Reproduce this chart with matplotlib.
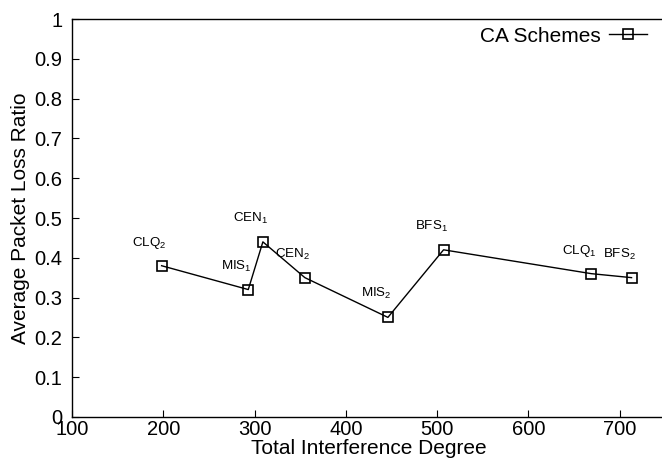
import matplotlib
matplotlib.use("Agg")
import matplotlib.pyplot as plt

plt.rcParams['font.family'] = ['Liberation Sans', 'DejaVu Sans']
plt.rcParams['mathtext.default'] = 'regular'

# CA schemes: total interference degree vs average packet loss ratio
schemes = ['CLQ$_2$', 'MIS$_1$', 'CEN$_1$', 'CEN$_2$', 'MIS$_2$', 'BFS$_1$', 'CLQ$_1$', 'BFS$_2$']
interference = [198, 293, 309, 355, 446, 507, 669, 713]
loss_ratio = [0.38, 0.32, 0.44, 0.35, 0.25, 0.42, 0.36, 0.35]

fig = plt.figure(figsize=(6.62, 4.58), dpi=100)
ax = fig.add_axes([0.109, 0.090, 0.896, 0.868])

ax.plot(interference, loss_ratio, color='black', lw=1.0, marker='s', ms=7.8,
        mfc='none', mec='black', mew=1.2, label='CA Schemes')

# point labels sit up and to the left of each marker
for name, x, y in zip(schemes, interference, loss_ratio):
    ax.annotate(name, (x, y), xytext=(-12, 20), textcoords='offset pixels',
                ha='center', va='baseline', fontsize=9.6)

ax.set_xlim(100, 750)
ax.set_ylim(0, 1)
ax.set_xticks([100, 200, 300, 400, 500, 600, 700])
ax.set_yticks([0, 0.1, 0.2, 0.3, 0.4, 0.5, 0.6, 0.7, 0.8, 0.9, 1])
ax.set_yticklabels(['0', '0.1', '0.2', '0.3', '0.4', '0.5', '0.6', '0.7', '0.8', '0.9', '1'])
ax.tick_params(direction='in', length=5, width=0.8, labelsize=14.5)
ax.tick_params(axis='x', pad=2.5)
ax.tick_params(axis='y', pad=7)
ax.spines['right'].set_visible(False)
for s in ['left', 'bottom', 'top']:
    ax.spines[s].set_linewidth(1.0)

ax.set_xlabel('Total Interference Degree', fontsize=15, labelpad=-0.5)
ax.set_ylabel('Average Packet Loss Ratio', fontsize=15, labelpad=3)

ax.legend(loc='upper right', frameon=False, markerfirst=False, fontsize=15,
          handlelength=1.8, handletextpad=0.4, borderaxespad=0.2,
          bbox_to_anchor=(0.99, 1.013))

fig.savefig('out.png', dpi=100)
